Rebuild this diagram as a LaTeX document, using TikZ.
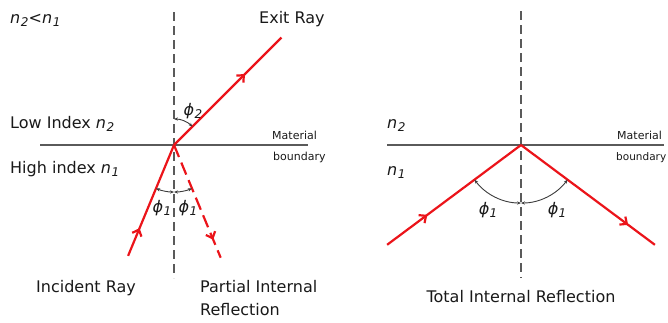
\documentclass[tikz,border=0pt]{standalone}
\usepackage{fontspec}
\setmainfont{DejaVu Sans}
\usetikzlibrary{arrows.meta,decorations.markings}
\definecolor{rayred}{RGB}{235,20,26}
\definecolor{linegray}{RGB}{90,90,90}
\definecolor{txt}{RGB}{25,25,25}
\newcommand\nidx[1]{{\itshape n\kern0.04em\raisebox{-0.35ex}{\fontsize{12}{12}\selectfont #1}}}
\newcommand\phidx[1]{{\itshape ϕ\kern0.02em\raisebox{-0.35ex}{\fontsize{12}{12}\selectfont #1}}}
\tikzset{
 ray/.style={rayred, line width=2.2pt},
 raydash/.style={rayred, line width=2.2pt, dash pattern=on 13pt off 6pt},
 boundary/.style={linegray, line width=2pt},
 normalline/.style={linegray, line width=1.3pt, dash pattern=on 9pt off 5pt},
 dim/.style={txt!85, line width=0.9pt, {Stealth[length=4pt,width=3.2pt]}-{Stealth[length=4pt,width=3.2pt]}},
 lbl/.style={font=\fontsize{16}{19}\selectfont, text=txt, inner sep=0pt},
 small/.style={font=\fontsize{11}{13}\selectfont, text=txt, inner sep=0pt},
 midarrow/.style={postaction=decorate, decoration={markings, mark=at position #1 with {\arrow{Straight Barb[length=5.5pt,width=10pt]}}}},
}
\begin{document}
\begin{tikzpicture}[x=1pt,y=-1pt]
\useasboundingbox (0,0) rectangle (668,322);
% ---------- left diagram ----------
\coordinate (O1) at (174,145);
\coordinate (N1t) at (174,12);
\coordinate (N1b) at (174,278);
\coordinate (B1l) at (40,145);
\coordinate (B1r) at (308,145);
\draw[boundary] (B1l) -- (B1r);
\draw[normalline] (N1t) -- (N1b);
\path (O1) ++(112.5:120) coordinate (Inc1);
\path (O1) ++(67.5:122) coordinate (Ref1);
\path (O1) ++(-45:152) coordinate (Exit1);
\draw[ray, midarrow=0.25] (Inc1) -- (O1);
\draw[ray, midarrow=0.66] (O1) -- (Exit1);
\draw[raydash, midarrow=0.84] (O1) -- (Ref1);
\draw[dim] (O1) ++(112.5:47) arc[start angle=112.5, end angle=90, radius=47];
\draw[dim] (O1) ++(90:47) arc[start angle=90, end angle=67.5, radius=47];
\draw[dim] (O1) ++(-90:26) arc[start angle=-90, end angle=-45, radius=26];
\node[lbl, anchor=base west] (cond) at (10,23) {\nidx{2}<\nidx{1}};
\node[lbl, anchor=base west] (exit) at (259,23) {Exit Ray};
\node[lbl, anchor=base west] (low) at (10,128) {Low Index \nidx{2}};
\node[lbl, anchor=base west] (high) at (10,173) {High index \nidx{1}};
\node[small, anchor=base west] (mat1) at (272,139) {Material};
\node[small, anchor=base west] (bnd1) at (273,160) {boundary};
\node[lbl] (p2) at (193,111) {\phidx{2}};
\node[lbl] (p1a) at (162,208) {\phidx{1}};
\node[lbl] (p1b) at (188,208) {\phidx{1}};
\node[lbl, anchor=base west] (incl) at (36,292) {Incident Ray};
\node[lbl, anchor=base west] (pir1) at (200,292) {Partial Internal};
\node[lbl, anchor=base west] (pir2) at (200,315) {Reflection};
% ---------- right diagram ----------
\coordinate (O2) at (521,145);
\coordinate (N2t) at (521,11);
\coordinate (N2b) at (521,278);
\coordinate (B2l) at (387,145);
\coordinate (B2r) at (664,145);
\draw[boundary] (B2l) -- (B2r);
\draw[normalline] (N2t) -- (N2b);
\path (O2) ++(143.3:167) coordinate (Inc2);
\path (O2) ++(36.7:167) coordinate (Ref2);
\draw[ray, midarrow=0.3] (Inc2) -- (O2);
\draw[ray, midarrow=0.8] (O2) -- (Ref2);
\draw[dim] (O2) ++(143.3:58) arc[start angle=143.3, end angle=90, radius=58];
\draw[dim] (O2) ++(90:58) arc[start angle=90, end angle=36.7, radius=58];
\node[lbl, anchor=base west] (n2r) at (387,128) {\nidx{2}};
\node[lbl, anchor=base west] (n1r) at (387,175) {\nidx{1}};
\node[small, anchor=base west] (mat2) at (617,139) {Material};
\node[small, anchor=base west, font=\fontsize{10.5}{13}\selectfont] (bnd2) at (616,160) {boundary};
\node[lbl] (p1c) at (488,210) {\phidx{1}};
\node[lbl] (p1d) at (557,210) {\phidx{1}};
\node[lbl, anchor=base] (tir) at (521,302) {Total Internal Reflection};
\end{tikzpicture}
\end{document}
